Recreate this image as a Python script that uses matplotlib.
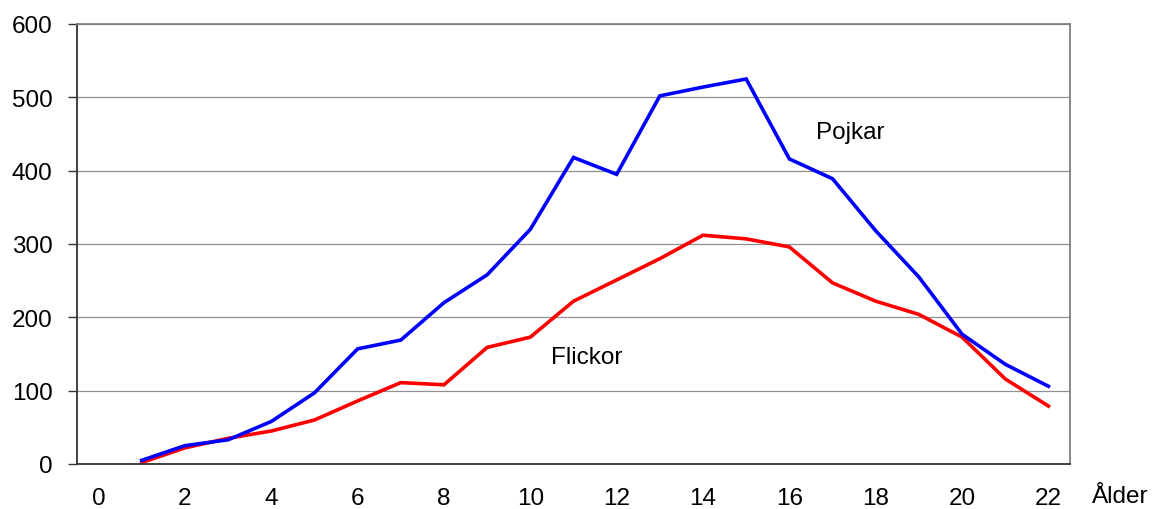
import matplotlib
matplotlib.use("Agg")
from matplotlib import pyplot as plt

plt.rcParams['font.family'] = ['Liberation Sans', 'DejaVu Sans']

ages = list(range(1, 23))
pojkar = [5, 25, 33, 58, 97, 157, 169, 220, 258, 320, 418, 395, 502, 514, 525,
          416, 389, 318, 255, 177, 136, 106]
flickor = [2, 22, 35, 45, 60, 86, 111, 108, 159, 173, 222, 251, 280, 312, 307,
           296, 247, 222, 204, 173, 116, 79]
xticks = list(range(0, 23, 2))
yticks = [0, 100, 200, 300, 400, 500, 600]

fig = plt.figure(figsize=(11.54, 5.10), dpi=100)
ax = fig.add_axes([77/1154, 45/510, (1070-77)/1154, (465-25)/510])

ax.plot(ages, flickor, color='#ff0000', lw=2.6, solid_joinstyle='miter')
ax.plot(ages, pojkar, color='#0000ff', lw=2.6, solid_joinstyle='miter')

ax.set_xlim(-0.5, 22.5)
ax.set_ylim(0, 600)
ax.set_xticks(xticks)
ax.set_yticks(yticks)
ax.tick_params(axis='x', length=0, pad=16.5, labelsize=17.5)
ax.tick_params(axis='y', length=6.5, width=1, color='#333333', pad=11, labelsize=17.5)
ax.yaxis.grid(True, color='#909090', lw=0.9)
ax.set_axisbelow(True)

for s in ['left', 'bottom']:
    ax.spines[s].set_color('#333333')
    ax.spines[s].set_linewidth(1.3)
for s in ['top', 'right']:
    ax.spines[s].set_color('#808080')
    ax.spines[s].set_linewidth(1.3)

ax.text(17.4, 453, "Pojkar", fontsize=17.5, ha='center', va='center')
ax.text(11.3, 146, "Flickor", fontsize=17.5, ha='center', va='center')
fig.text(1120/1154, 1 - 497/510, "Ålder", fontsize=17.5, ha='center', va='center')

fig.savefig("out.png", dpi=100)
